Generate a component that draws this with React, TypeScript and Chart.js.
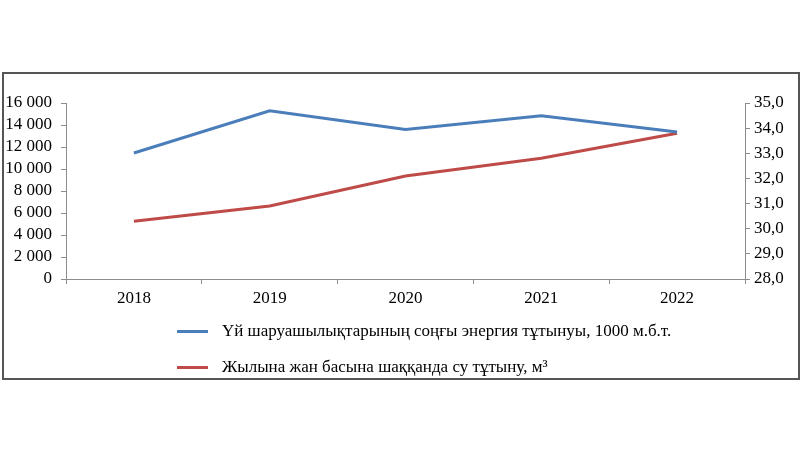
import React, { useEffect, useRef } from "react";
import { Chart, registerables } from "chart.js";

Chart.register(...registerables);

const years = ["2018", "2019", "2020", "2021", "2022"];
const energyLabel = "Үй шаруашылықтарының соңғы энергия тұтынуы, 1000 м.б.т.";
const waterLabel = "Жылына жан басына шаққанда су тұтыну, м³";
const energyValues = [11450, 15300, 13600, 14850, 13370];
const waterValues = [30.3, 30.9, 32.1, 32.8, 33.8];
const leftMin = 0;
const leftMax = 16000;
const leftStep = 2000;
const rightMin = 28;
const rightMax = 35;
const rightStep = 1;

const BLUE = "#4A7EBB";
const RED = "#BE4B48";
const AXIS = "#8c8c8c";
const FONT = "'Liberation Serif', 'Times New Roman', serif";
const FS = 17;

export default function App() {
  const ref = useRef<HTMLCanvasElement | null>(null);

  useEffect(() => {
    if (!ref.current) return;
    const chart = new Chart(ref.current, {
      type: "line",
      data: {
        labels: years,
        datasets: [
          {
            label: energyLabel,
            data: energyValues,
            borderColor: BLUE,
            backgroundColor: BLUE,
            borderWidth: 3,
            pointRadius: 0,
            tension: 0,
            yAxisID: "y",
          },
          {
            label: waterLabel,
            data: waterValues,
            borderColor: RED,
            backgroundColor: RED,
            borderWidth: 3,
            pointRadius: 0,
            tension: 0,
            yAxisID: "y1",
          },
        ],
      },
      options: {
        animation: false,
        responsive: false,
        maintainAspectRatio: false,
        layout: { padding: { top: 103, left: 0, right: 0, bottom: 0 } },
        plugins: { legend: { display: false }, tooltip: { enabled: false } },
        scales: {
          x: {
            type: "category",
            offset: true,
            grid: {
              display: true,
              drawOnChartArea: false,
              drawTicks: true,
              tickLength: 5,
              color: AXIS,
              offset: true,
            },
            border: { display: true, color: AXIS, width: 1 },
            ticks: { color: "#000", font: { family: FONT, size: FS }, padding: 4, maxRotation: 0, autoSkip: false },
            afterFit: (s: any) => {
              s.height = 171;
            },
          },
          y: {
            position: "left",
            min: leftMin,
            max: leftMax,
            grid: { drawOnChartArea: false, drawTicks: true, tickLength: 5, color: AXIS },
            border: { display: true, color: AXIS, width: 1 },
            ticks: {
              stepSize: leftStep,
              autoSkip: false,
              color: "#000",
              font: { family: FONT, size: FS },
              padding: 9,
              callback: (v: any) => String(v).replace(/\B(?=(\d{3})+(?!\d))/g, " "),
            },
            afterFit: (s: any) => {
              s.width = 66;
            },
          },
          y1: {
            position: "right",
            min: rightMin,
            max: rightMax,
            grid: { drawOnChartArea: false, drawTicks: true, tickLength: 5, color: AXIS },
            border: { display: true, color: AXIS, width: 1 },
            ticks: {
              stepSize: rightStep,
              autoSkip: false,
              color: "#000",
              font: { family: FONT, size: FS },
              padding: 4,
              callback: (v: any) => Number(v).toFixed(1).replace(".", ","),
            },
            afterFit: (s: any) => {
              s.width = 55;
            },
          },
        },
      },
    });
    return () => chart.destroy();
  }, []);

  const legendRow = (color: string, text: string, top: number) => (
    <div
      style={{
        position: "absolute",
        left: 177,
        top: top - 12,
        height: 24,
        display: "flex",
        alignItems: "center",
        fontFamily: FONT,
        fontSize: FS,
        color: "#000",
        whiteSpace: "nowrap",
      }}
    >
      <span style={{ display: "inline-block", width: 31, height: 3, background: color, marginRight: 14 }} />
      <span>{text}</span>
    </div>
  );

  return (
    <div style={{ position: "absolute", left: 0, top: 0, width: 800, height: 450, background: "#fff", overflow: "hidden" }}>
      <canvas ref={ref} width={800} height={450} style={{ position: "absolute", left: 0, top: 0, width: 800, height: 450 }} />
      <div
        style={{
          position: "absolute",
          left: 2,
          top: 72,
          width: 794,
          height: 304,
          border: "2px solid #555",
          pointerEvents: "none",
        }}
      />
      {legendRow(BLUE, energyLabel, 331)}
      {legendRow(RED, waterLabel, 367)}
    </div>
  );
}
